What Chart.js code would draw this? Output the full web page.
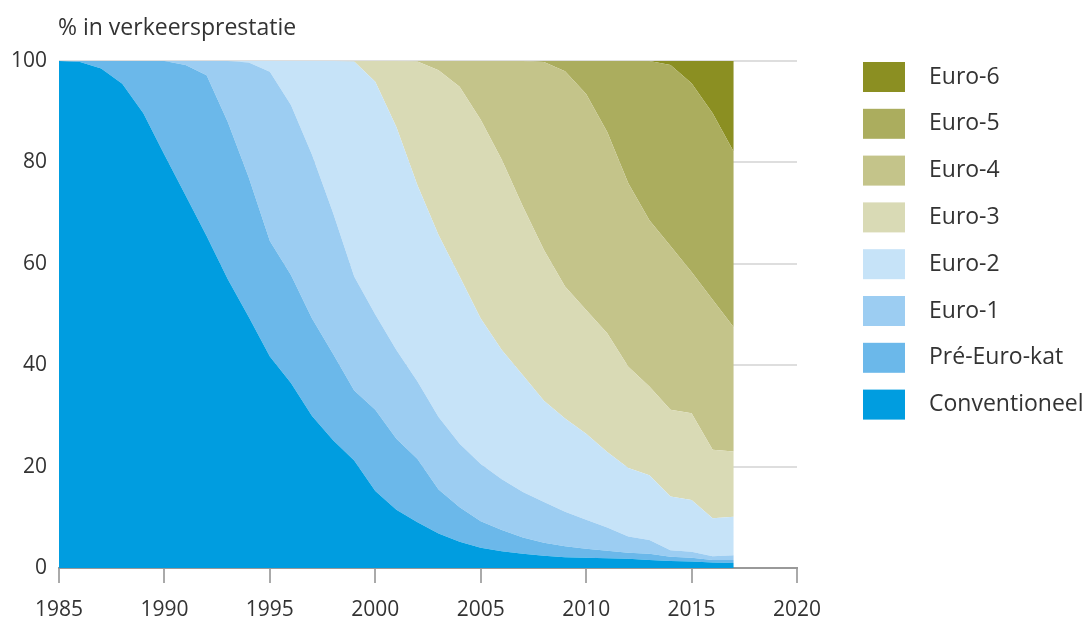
<!DOCTYPE html>
<html><head><meta charset="utf-8">
<script src="https://cdn.jsdelivr.net/npm/chart.js@4.4.1/dist/chart.umd.min.js"></script>
<style>html,body{margin:0;padding:0;background:#fff;}</style>
</head><body>
<canvas id="c" width="1090" height="623"></canvas>
<script>
const years = [1985,1986,1987,1988,1989,1990,1991,1992,1993,1994,1995,1996,1997,1998,1999,2000,2001,2002,2003,2004,2005,2006,2007,2008,2009,2010,2011,2012,2013,2014,2015,2016,2017];
const conventioneel = [100,99.8,98.5,95.5,89.7,81.5,73.5,65.5,57,49.5,41.7,36.5,30,25.2,21.2,15.2,11.5,9,6.8,5.2,4.0,3.3,2.8,2.4,2.1,2.0,1.9,1.8,1.6,1.4,1.3,1.1,1.0];
const preEuroKat = [0,0.2,1.5,4.5,10.3,18.5,25.7,31.7,31,27.5,22.8,21.3,19.2,17,13.8,16,14,12.5,8.7,6.8,5.2,4.2,3.2,2.6,2.2,1.8,1.5,1.2,1.2,0.8,0.7,0.5,0.6];
const euro1 = [0,0,0,0,0,0,0.8,2.8,12,22.7,33.4,33.5,32.3,27.8,22.5,18.8,17.5,15.3,14.3,12.5,11.3,10,9,8,6.8,5.7,4.6,3.2,2.7,1.3,1.2,0.7,0.9];
const euro2 = [0,0,0,0,0,0,0,0,0,0.3,2.1,8.7,18.5,30,42.4,45.9,44,38.7,35.9,33,28.7,25.5,23,20,18.4,17,14.9,13.5,12.8,10.6,10.2,7.5,7.6];
const euro3 = [0,0,0,0,0,0,0,0,0,0,0,0,0,0,0.1,4.1,13,24.4,32.5,37.4,39.2,37.5,33.3,29.7,26,24.4,23.4,20,17.5,17.1,17.1,13.5,12.9];
const euro4 = [0,0,0,0,0,0,0,0,0,0,0,0,0,0,0,0,0,0.1,1.8,5.1,11.6,19.5,28.7,37.1,42.5,42.6,39.7,36.2,32.8,32.3,27.9,29.6,24.5];
const euro5 = [0,0,0,0,0,0,0,0,0,0,0,0,0,0,0,0,0,0,0,0,0,0,0,0.2,2,6.5,14,24.1,31.4,35.7,37.2,36.8,34.6];
const euro6 = [0,0,0,0,0,0,0,0,0,0,0,0,0,0,0,0,0,0,0,0,0,0,0,0,0,0,0,0,0,0.8,4.4,10.3,17.9];

const seriesNames = ['Conventioneel','Pré-Euro-kat','Euro-1','Euro-2','Euro-3','Euro-4','Euro-5','Euro-6'];
const seriesValues = [conventioneel, preEuroKat, euro1, euro2, euro3, euro4, euro5, euro6];
const seriesColors = ['#009de0','#6bb8ea','#9ccdf2','#c6e3f8','#d9dab5','#c4c48a','#abad5e','#8b8f22'];
const xTickValues = [1985,1990,1995,2000,2005,2010,2015,2020];
const yTickValues = [0,20,40,60,80,100];
const yAxisTitle = '% in verkeersprestatie';

const FONT = '"Open Sans", sans-serif';
Chart.defaults.font.family = FONT;
Chart.defaults.color = '#333';

const datasets = seriesValues.map((vals, i) => ({
  label: seriesNames[i],
  data: years.map((y, k) => ({x: y, y: vals[k]})),
  backgroundColor: seriesColors[i],
  borderColor: seriesColors[i],
  borderWidth: 0,
  pointRadius: 0,
  tension: 0,
  fill: i === 0 ? 'origin' : '-1'
}));

const decorPlugin = {
  id: 'decor',
  afterDraw(chart) {
    const ctx = chart.ctx;
    ctx.save();
    ctx.textBaseline = 'middle';
    ctx.textAlign = 'left';
    ctx.font = '23px ' + FONT;
    ctx.fillStyle = '#333';
    ctx.fillText(yAxisTitle, chart.chartArea.left - 1, 28);
    for (let row = 0; row < seriesNames.length; row++) {
      const i = seriesNames.length - 1 - row;
      const top = 62 + row * 46.8;
      ctx.fillStyle = seriesColors[i];
      ctx.fillRect(863, top, 42, 30);
      ctx.fillStyle = '#333';
      ctx.fillText(seriesNames[i], 929, top + 15);
    }
    ctx.restore();
  }
};

new Chart(document.getElementById('c'), {
  type: 'line',
  data: { datasets },
  options: {
    responsive: false,
    devicePixelRatio: 1,
    animation: false,
    layout: { padding: { left: 0, right: 293, top: 61, bottom: 0 } },
    plugins: { legend: { display: false }, tooltip: { enabled: false } },
    scales: {
      x: {
        type: 'linear',
        min: 1985, max: 2020,
        afterBuildTicks: s => { s.ticks = xTickValues.map(v => ({value: v})); },
        afterFit: s => { s.height = 55; },
        grid: { display: true, drawOnChartArea: false, drawTicks: true, tickLength: 15, color: '#aaa', lineWidth: 2 },
        border: { display: true, color: '#999', width: 2 },
        ticks: { font: { size: 21 }, color: '#333', padding: 14, callback: v => String(v), maxRotation: 0 }
      },
      y: {
        type: 'linear',
        stacked: true,
        min: 0, max: 100,
        afterBuildTicks: s => { s.ticks = yTickValues.map(v => ({value: v})); },
        afterFit: s => { s.width = 59; },
        grid: { color: '#dedede', lineWidth: 2, drawTicks: false },
        border: { display: false },
        ticks: { font: { size: 21 }, color: '#333', padding: 12 }
      }
    }
  },
  plugins: [decorPlugin]
});
</script>
</body></html>
